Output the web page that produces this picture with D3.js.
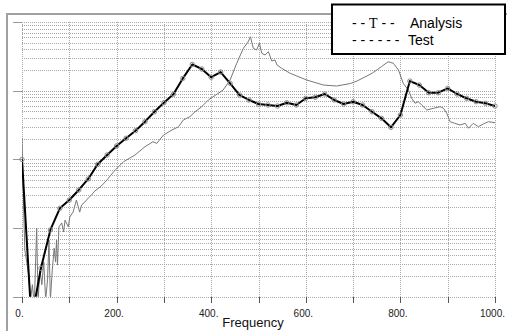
<!DOCTYPE html>
<html><head><meta charset="utf-8">
<script src="https://cdn.jsdelivr.net/npm/d3@7"></script>
<style>html,body{margin:0;padding:0;background:#fff;overflow:hidden}svg{display:block}</style>
</head><body>
<svg id="c" width="507" height="331"></svg>
<script>
const analysisFreq = [0,20,40,60,80,100,120,140,160,180,200,220,240,260,280,300,320,340,360,380,400,420,440,460,480,500,520,540,560,580,600,620,640,660,680,700,720,740,760,780,800,820,840,860,880,900,920,940,960,980,1000];
const analysisVal = [0.1,0.00046,0.0026,0.0094,0.0194,0.0256,0.0359,0.0519,0.085,0.116,0.157,0.203,0.262,0.354,0.494,0.668,0.887,1.51,2.41,2.07,1.57,1.87,1.28,0.865,0.733,0.640,0.619,0.598,0.668,0.619,0.775,0.802,0.895,0.733,0.640,0.692,0.619,0.494,0.396,0.293,0.443,1.38,1.21,0.935,0.935,1.08,0.895,0.775,0.692,0.656,0.598];
const testFreq = [0,3,6,10,14,18,22,26,31,34,38,42,46,50,54,57,60,64,68,71,73,75,78,84,88,91,98,101,108,115,122,126,133,140,147,154,165,176,197,215,239,260,277,285,299,317,331,341,355,366,380,394,425,440,454,468,478,483,489,496,502,507,514,521,528,535,539,549,567,602,637,665,694,708,740,760,774,785,796,806,817,824,831,838,845,856,870,884,891,898,905,915,926,937,944,954,965,975,986,1000];
const testVal = [0.205,0.0256,0.0048,0.0032,0.0021,0.0009,0.0015,0.00076,0.01,0.0009,0.00245,0.0015,0.0032,0.0009,0.00176,0.0067,0.0009,0.00245,0.0051,0.0032,0.0067,0.0029,0.0104,0.0119,0.0088,0.0131,0.0104,0.0145,0.0171,0.0256,0.0171,0.0217,0.024,0.0274,0.0303,0.0347,0.0396,0.0469,0.0702,0.0927,0.116,0.153,0.181,0.171,0.226,0.268,0.299,0.374,0.419,0.494,0.585,0.733,1.02,1.43,2.51,4.14,5.12,6.11,4.14,3.91,4.90,3.50,3.31,3.70,2.71,2.80,2.37,2.12,1.79,1.43,1.21,1.17,1.27,1.38,1.79,2.24,2.64,2.51,2.0,1.28,1.02,0.775,0.656,0.692,0.619,0.524,0.555,0.585,0.555,0.469,0.354,0.335,0.317,0.335,0.284,0.335,0.299,0.327,0.354,0.342];
const xTicks = [0,100,200,300,400,500,600,700,800,900,1000];
const xLabelTicks = [0,200,400,600,800,1000];
const yDecades = [0.001,0.01,0.1,1,10];
const legendItems = ["Analysis","Test"];
const xTitle = "Frequency";

const svg = d3.select("#c");
const L=22, R=495, T=22, B=296.8;
const x = d3.scaleLinear().domain([0,1000]).range([L,R]);
const y = d3.scaleLog().domain([0.001,10]).range([B,T]);

// outer frame
svg.append("path").attr("d",`M7,331 L7,14 L507,14`).attr("fill","none").attr("stroke","#a0a0a0").attr("stroke-width",2);

// grid
const g = svg.append("g");
g.selectAll(".hg").data(y.ticks()).join("line")
  .attr("x1",L).attr("x2",R).attr("y1",d=>Math.round(y(d))+0.5).attr("y2",d=>Math.round(y(d))+0.5)
  .attr("stroke","#a8a8a8").attr("stroke-width",1).attr("stroke-dasharray","1,1");
g.selectAll(".vg").data(xTicks).join("line")
  .attr("x1",d=>Math.round(x(d))+0.5).attr("x2",d=>Math.round(x(d))+0.5).attr("y1",T).attr("y2",B)
  .attr("stroke","#a8a8a8").attr("stroke-width",1).attr("stroke-dasharray","1,1");

// axes
const ax = svg.append("g").attr("transform",`translate(0,${B})`)
  .call(d3.axisBottom(x).tickValues(xTicks).tickSize(6).tickPadding(7)
    .tickFormat(d=> xLabelTicks.includes(d) ? d+"." : ""));
ax.select(".domain").remove();
ax.selectAll(".tick line").attr("stroke","#555").attr("shape-rendering","crispEdges");
ax.selectAll(".tick text").attr("font-family","Liberation Sans, Arial, sans-serif").attr("font-size",10).attr("fill","#222").attr("dx",-3);

const ay = svg.append("g").attr("transform",`translate(${L},0)`)
  .call(d3.axisLeft(y).tickValues(yDecades).tickSize(9).tickFormat(""));
ay.select(".domain").remove();
ay.selectAll(".tick line").attr("stroke","#999").attr("shape-rendering","crispEdges");

svg.append("text").attr("x",253).attr("y",327).attr("text-anchor","middle")
  .attr("font-family","Liberation Sans, Arial, sans-serif").attr("font-size",13).attr("fill","#111").text(xTitle);

// clip
svg.append("clipPath").attr("id","pc").append("rect").attr("x",L).attr("y",T).attr("width",R-L).attr("height",B-T);
const plot = svg.append("g").attr("clip-path","url(#pc)");

const line = d3.line().x(d=>x(d[0])).y(d=>y(Math.max(d[1],1e-5)));
const testData = testFreq.map((f,i)=>[f,testVal[i]]);
const anaData = analysisFreq.map((f,i)=>[f,analysisVal[i]]);

plot.append("path").datum(testData).attr("d",line).attr("fill","none").attr("stroke","#777").attr("stroke-width",1);
plot.append("path").datum(anaData).attr("d",line).attr("fill","none").attr("stroke","#000").attr("stroke-width",2).attr("stroke-linejoin","round");

svg.append("g").selectAll("circle").data(anaData.filter(d=>d[1]>=0.001)).join("circle")
  .attr("cx",d=>x(d[0])).attr("cy",d=>y(d[1])).attr("r",2.2)
  .attr("fill","none").attr("stroke","#8a8a8a").attr("stroke-width",1);

// legend
const lg = svg.append("g");
lg.append("rect").attr("x",332).attr("y",4.5).attr("width",173).attr("height",49.5)
  .attr("fill","#fff").attr("stroke","#000").attr("stroke-width",2);
const t1 = lg.append("text").attr("x",352).attr("y",28).attr("font-family","Liberation Sans, Arial, sans-serif").attr("font-size",14).attr("fill","#000");
t1.append("tspan").text("- - ");
t1.append("tspan").attr("font-family","Liberation Serif, Times New Roman, serif").text("T");
t1.append("tspan").text(" - -");
lg.append("text").attr("x",410).attr("y",28).attr("font-family","Liberation Sans, Arial, sans-serif").attr("font-size",14).attr("fill","#000").text(legendItems[0]);
lg.append("text").attr("x",352).attr("y",45).attr("font-family","Liberation Sans, Arial, sans-serif").attr("font-size",14).attr("fill","#000").text("- - - - - -");
lg.append("text").attr("x",408).attr("y",45).attr("font-family","Liberation Sans, Arial, sans-serif").attr("font-size",14).attr("fill","#000").text(legendItems[1]);
</script>
</body></html>
